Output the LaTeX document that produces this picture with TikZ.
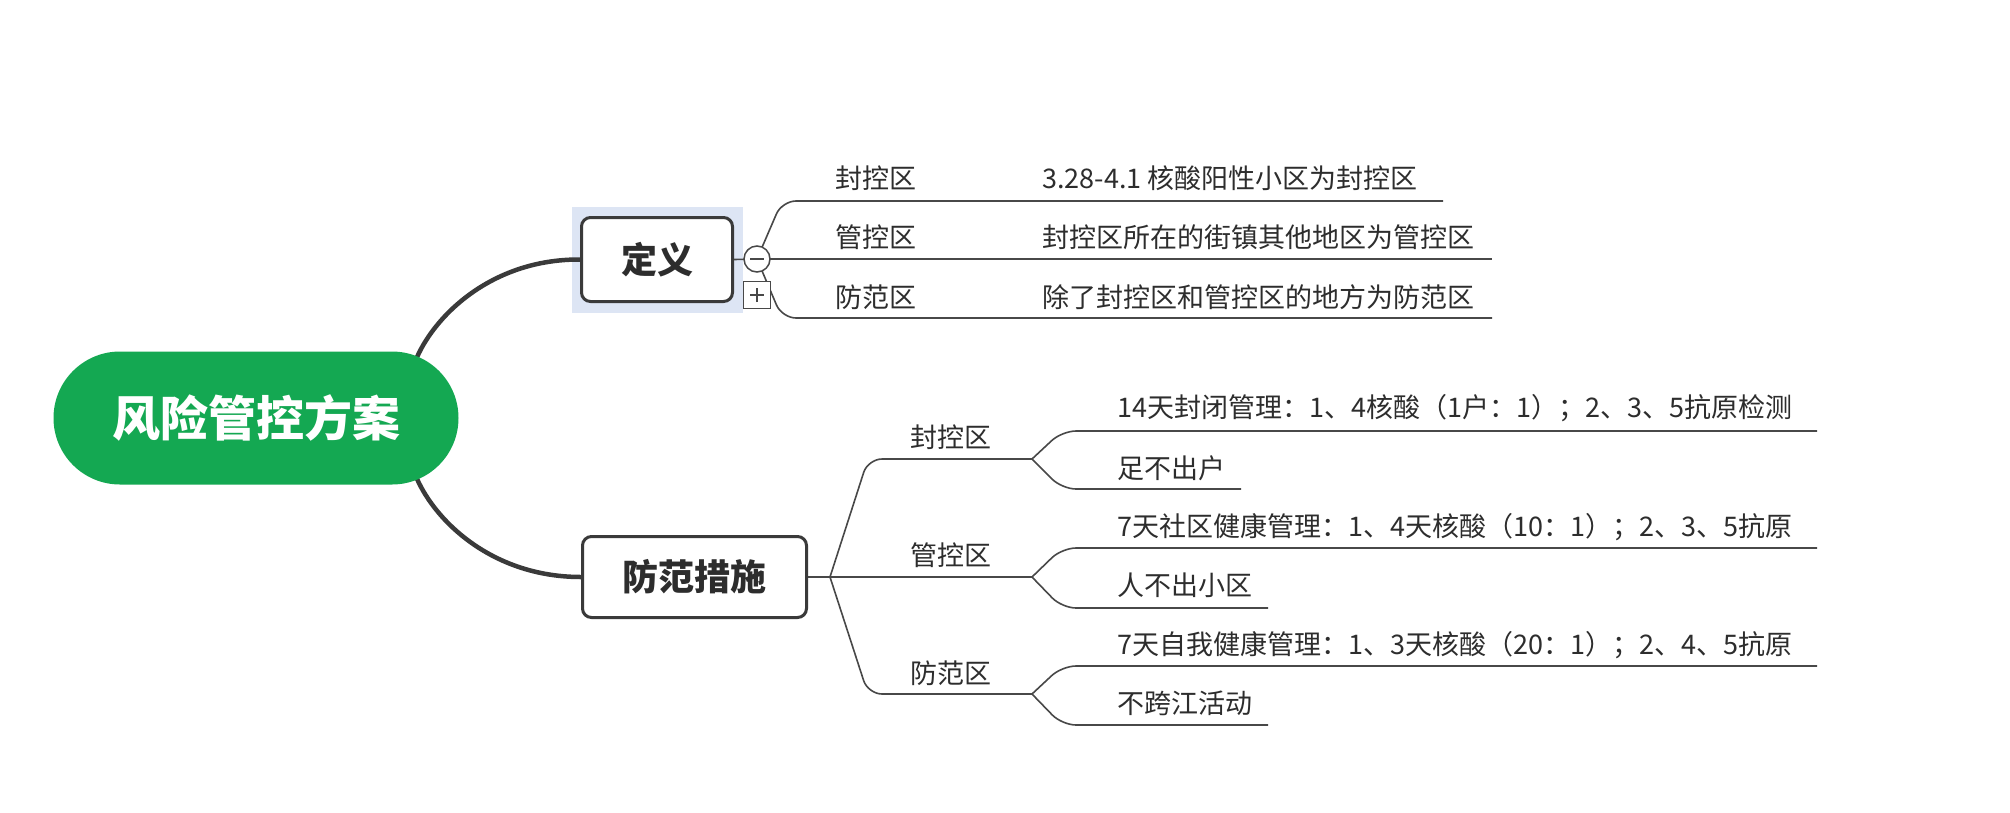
\documentclass[tikz,border=0pt]{standalone}
\usepackage{fontspec}
\setmainfont{Noto Sans CJK SC}
\usetikzlibrary{backgrounds,shapes.misc}
\definecolor{mygreen}{RGB}{20,168,82}
\definecolor{linec}{RGB}{72,72,72}
\definecolor{thickc}{RGB}{58,58,58}
\definecolor{txt}{RGB}{45,45,45}
\definecolor{halo}{RGB}{221,229,244}
\begin{document}
\begin{tikzpicture}[x=1pt,y=-1pt,
  thinline/.style={draw=linec,line width=1.6pt,rounded corners=14pt},
  thickline/.style={draw=thickc,line width=4.5pt},
  lbl/.style={text=txt,font=\fontsize{27}{32}\selectfont,inner sep=0pt},
  mainbox/.style={draw=thickc,line width=3pt,fill=white,rounded corners=9pt,inner sep=0pt,
    text=txt,font=\bfseries\fontsize{36}{42}\selectfont},
  ctrl/.style={draw=linec,line width=1.5pt,fill=white,inner sep=0pt}]
\useasboundingbox (0,0) rectangle (2010,812);

% main nodes
\node[rounded rectangle,fill=mygreen,minimum width=405pt,minimum height=133pt,inner sep=0pt,
  text=white,font=\bfseries\fontsize{48}{56}\selectfont] (root) at (256,418) {风险管控方案};
\node[mainbox,minimum width=151pt,minimum height=84pt] (dy) at (657,259.5) {定义};
\node[mainbox,minimum width=224pt,minimum height=81pt] (ff) at (694.5,577) {防范措施};

% collapse / expand controls
\node[ctrl,circle,minimum size=26pt] (col) at (757,259) {};
\draw[linec,line width=1.5pt] ([xshift=-7pt]col.center) -- ([xshift=7pt]col.center);
\node[ctrl,rectangle,minimum size=27pt] (exp) at (757,295) {};
\draw[linec,line width=1.5pt] ([xshift=-7pt]exp.center) -- ([xshift=7pt]exp.center);
\draw[linec,line width=1.5pt] ([yshift=-7pt]exp.center) -- ([yshift=7pt]exp.center);

% definition labels
\node[lbl] (a1) at (876,178) {封控区};
\node[lbl] (a2) at (876,237) {管控区};
\node[lbl] (a3) at (876,297) {防范区};
\node[lbl,anchor=west] (a1t) at (1042,178) {3.28-4.1 核酸阳性小区为封控区};
\node[lbl,anchor=west] (a2t) at (1042,237) {封控区所在的街镇其他地区为管控区};
\node[lbl,anchor=west] (a3t) at (1042,297) {除了封控区和管控区的地方为防范区};

% measure labels
\node[lbl] (b1) at (951,437) {封控区};
\node[lbl] (b2) at (951,555) {管控区};
\node[lbl] (b3) at (951,673) {防范区};
\node[lbl,anchor=west] (c1) at (1117,408) {14天封闭管理：1、4核酸（1户：1）；2、3、5抗原检测};
\node[lbl,anchor=west] (c2) at (1117,468) {足不出户};
\node[lbl,anchor=west] (c3) at (1117,527) {7天社区健康管理：1、4天核酸（10：1）；2、3、5抗原};
\node[lbl,anchor=west] (c4) at (1117,585) {人不出小区};
\node[lbl,anchor=west] (c5) at (1117,645) {7天自我健康管理：1、3天核酸（20：1）；2、4、5抗原};
\node[lbl,anchor=west] (c6) at (1117,703) {不跨江活动};

% branch points and line ends
\coordinate (e1) at (1443,201);
\coordinate (e2) at (1492,259);
\coordinate (e3) at (1492,318);
\coordinate (fb) at (830,577);
\coordinate (g1) at (1032,459);
\coordinate (g2) at (1032,577);
\coordinate (g3) at (1032,694);
\coordinate (h1) at (1817,431);
\coordinate (h2) at (1241,489);
\coordinate (h3) at (1817,548);
\coordinate (h4) at (1268,608);
\coordinate (h5) at (1817,666);
\coordinate (h6) at (1268,725);

\begin{scope}[on background layer]
  \fill[white] (0,0) rectangle (2010,812);
  \fill[halo] ([shift={(-8pt,-10pt)}]dy.south west) rectangle ([shift={(9pt,9pt)}]dy.north east);
  % root connectors
  \draw[thickline] ([shift={(159pt,56pt)}]root.center) .. controls (432,318) and (490,259) .. (dy.west);
  \draw[thickline] ([shift={(159pt,-56pt)}]root.center) .. controls (432,518) and (490,577) .. (ff.west);
  % definition branches
  \draw[thinline] (dy.east) -- (col.center);
  \draw[thinline] (col.center) -- (782,201) -- (e1);
  \draw[thinline] (col.center) -- (e2);
  \draw[thinline] (col.center) -- (782,318) -- (e3);
  % measure branches
  \draw[thinline] (ff.east) -- (fb);
  \draw[thinline] (fb) -- (868,459) -- (g1);
  \draw[thinline] (fb) -- (g2);
  \draw[thinline] (fb) -- (868,694) -- (g3);
  \draw[thinline] (g1) -- (1062,431) -- (h1);
  \draw[thinline] (g1) -- (1062,489) -- (h2);
  \draw[thinline] (g2) -- (1062,548) -- (h3);
  \draw[thinline] (g2) -- (1062,608) -- (h4);
  \draw[thinline] (g3) -- (1062,666) -- (h5);
  \draw[thinline] (g3) -- (1062,725) -- (h6);
\end{scope}
\end{tikzpicture}
\end{document}
